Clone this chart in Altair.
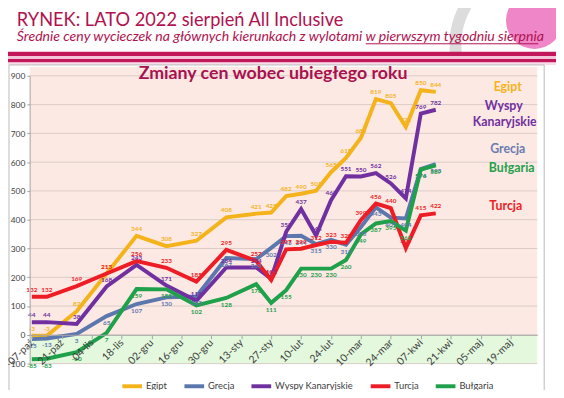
import altair as alt
import pandas as pd

# ---------------- data ----------------
dates = ["2021-10-07", "2021-10-14", "2021-10-28", "2021-11-11", "2021-11-25", "2021-12-09",
         "2021-12-23", "2022-01-06", "2022-01-20", "2022-01-27", "2022-02-03", "2022-02-10",
         "2022-02-17", "2022-02-24", "2022-03-03", "2022-03-10", "2022-03-17", "2022-03-24",
         "2022-03-31", "2022-04-07", "2022-04-14"]
series_names = ["Egipt", "Grecja", "Wyspy Kanaryjskie", "Turcja", "Bułgaria"]
egipt = [-3, -3, 82, 213, 344, 308, 327, 408, 421, 425, 482, 490, 501, 565, 615, 685, 819, 805, 722, 850, 844]
grecja = [-15, -13, 3, 65, 107, 130, 133, 267, 263, 302, 343, 344, 315, 330, 313, 375, 443, 407, 404, 576, 593]
wyspy = [44, 44, 38, 168, 243, 171, 118, 234, 234, 195, 358, 437, 345, 468, 551, 550, 562, 526, 474, 769, 782]
turcja = [132, 132, 169, 213, 256, 233, 185, 295, 257, 190, 297, 299, 312, 323, 320, 399, 456, 440, 301, 415, 422]
bulgaria = [-85, -83, -60, 7, 159, 158, 102, 128, 176, 111, 155, 230, 230, 230, 260, 349, 387, 395, 362, 574, 589]
tick_labels = ["07-paź", "21-paź", "04-lis", "18-lis", "02-gru", "16-gru", "30-gru", "13-sty", "27-sty",
               "10-lut", "24-lut", "10-mar", "24-mar", "07-kwi", "21-kwi", "05-maj", "19-maj"]
y_ticks = [-100, 0, 100, 200, 300, 400, 500, 600, 700, 800, 900]

colors = ["#F5B31B", "#5B77AD", "#7030A0", "#EE1C25", "#1FA04A"]
label_dy = [-7, 7, -7, -7, 7]

# ---------------- build table ----------------
start = pd.Timestamp(dates[0])
days = [(pd.Timestamp(d) - start).days for d in dates]
rows = []
for name, vals in zip(series_names, [egipt, grecja, wyspy, turcja, bulgaria]):
    for d, v in zip(days, vals):
        rows.append({"day": d, "value": v, "series": name, "label": str(v)})
df = pd.DataFrame(rows)

# ---------------- geometry ----------------
W, H = 515, 292
PX0, PY0 = 30, 74          # plot origin on the page


def px(x):
    return x - PX0


def py(y):
    return y - PY0


FONT = "Lato"
CRIMSON = "#B0124F"

xs = alt.Scale(domain=[-1, 236.5], nice=False, zero=False)
ys = alt.Scale(domain=[-100, 900], nice=False, zero=False)
label_js = "[" + ",".join("'%s'" % t for t in tick_labels) + "][round(datum.value/14)]"
x_axis = alt.Axis(values=[14 * i for i in range(len(tick_labels))], labelExpr=label_js,
                  labelAngle=-45, labelAlign="right", labelBaseline="middle", labelPadding=2,
                  labelOverlap=False, labelFlush=False, labelBound=False, tickSize=4,
                  tickColor="#A6A6A6", domainColor="#A6A6A6", labelFont=FONT, labelFontSize=10.5,
                  labelColor="#404040", offset=-29.2, grid=False, title=None, zindex=1)
y_axis = alt.Axis(values=y_ticks, grid=False, tickSize=3, tickColor="#A6A6A6",
                  domainColor="#A6A6A6", labelFont=FONT, labelFontSize=8.5, labelColor="#404040",
                  labelPadding=2, title=None, zindex=1)
cscale = alt.Scale(domain=series_names, range=colors)
leg = alt.Legend(orient="none", legendX=92, legendY=303, direction="horizontal", columns=5,
                 title=None, symbolType="stroke", symbolStrokeWidth=4, symbolSize=400,
                 labelFont=FONT, labelFontSize=9.5, labelColor="#404040", columnPadding=9,
                 labelOffset=2)

one = pd.DataFrame({"k": [0]})


def box(x1, x2, y1, y2, **kw):
    return alt.Chart(one).mark_rect(**kw).encode(
        x=alt.value(x1), x2=alt.value(x2), y=alt.value(y1), y2=alt.value(y2))


def txt(text, x, y, **kw):
    return alt.Chart(one).mark_text(text=text, **kw).encode(x=alt.value(x), y=alt.value(y))


layers = []
# header decorations
layers.append(alt.Chart(one).mark_arc(radius=84, radius2=72, theta=4.6, theta2=5.5,
                                      color="#DCDCDC").encode(x=alt.value(px(540)), y=alt.value(py(42))))
layers.append(alt.Chart(one).mark_circle(size=3300, color="#EE86C8", opacity=1).encode(
    x=alt.value(px(542)), y=alt.value(py(18))))
layers.append(box(px(0), px(570), py(49.5), py(54), color="#C2185B"))
layers.append(box(px(0), px(570), py(54), py(57), color="#F2C6D8"))
layers.append(box(px(0), px(570), py(57), py(60.5), color="#C2185B"))
layers.append(box(px(0), px(570), py(60.5), py(63), color="#F9DCE8"))
# chart panel
layers.append(box(px(9), px(552), py(63), py(395), fill="white", stroke="#BBBBBB", strokeWidth=1))
# plot background
layers.append(box(0, W, py(65), py(337), color="#FDE9E4"))
layers.append(box(0, W, py(337), H, color="#E4F8DE"))
# gridlines
layers.append(alt.Chart(pd.DataFrame({"value": y_ticks})).mark_rule(color="#D9CBC7", strokeWidth=1).encode(
    y=alt.Y("value:Q", scale=ys, axis=y_axis), x=alt.value(0), x2=alt.value(W)))

base = alt.Chart(df)
for name in series_names:
    layers.append(base.transform_filter(alt.datum.series == name).mark_line(strokeWidth=4).encode(
        x=alt.X("day:Q", scale=xs, axis=x_axis),
        y=alt.Y("value:Q", scale=ys, axis=y_axis),
        color=alt.Color("series:N", scale=cscale, legend=leg)))
for name, col, dy in zip(series_names, colors, label_dy):
    layers.append(base.transform_filter(alt.datum.series == name).mark_text(
        fontSize=6.5, fontWeight="bold", font=FONT, dy=dy, color=col).encode(
        x=alt.X("day:Q", scale=xs, axis=x_axis),
        y=alt.Y("value:Q", scale=ys, axis=y_axis),
        text="label:N"))

# titles and annotations
layers.append(txt("RYNEK: LATO 2022 sierpień All Inclusive", px(17), py(23), font=FONT, fontSize=18.5,
                  color=CRIMSON, align="left", baseline="alphabetic"))
layers.append(txt("Średnie ceny wycieczek na głównych kierunkach z wylotami w pierwszym tygodniu sierpnia",
                  px(17), py(39), font=FONT, fontSize=14.3, fontStyle="italic", color=CRIMSON,
                  align="left", baseline="alphabetic"))
layers.append(alt.Chart(one).mark_rule(color=CRIMSON, strokeWidth=1).encode(
    x=alt.value(px(371)), x2=alt.value(px(546)), y=alt.value(py(41.5))))
layers.append(txt("Zmiany cen wobec ubiegłego roku", px(277), py(72), font=FONT, fontSize=18,
                  fontWeight="bold", color="#A8104E", align="center", baseline="middle"))
side = [("Egipt", 515, 85.7, colors[0]), ("Wyspy", 511, 105, colors[2]),
        ("Kanaryjskie", 512, 120.7, colors[2]), ("Grecja", 515, 148.3, "#6A7BB0"),
        ("Bułgaria", 519, 167.3, colors[4]), ("Turcja", 513, 206, colors[3])]
for t, x, y, c in side:
    layers.append(txt(t, px(x), py(y), font=FONT, fontSize=12.5, fontWeight="bold", color=c,
                      align="center", baseline="middle"))

chart = alt.layer(*layers).properties(
    width=W, height=H, background="white",
    padding={"left": PX0 - 8, "top": PY0 - 8, "right": 556 - (PX0 - 8) - W, "bottom": 382 - (PY0 - 8) - H},
    autosize=alt.AutoSizeParams(type="none"),
).configure_view(stroke=None)

chart.save("out.html", embed_options={"renderer": "svg", "actions": False})
